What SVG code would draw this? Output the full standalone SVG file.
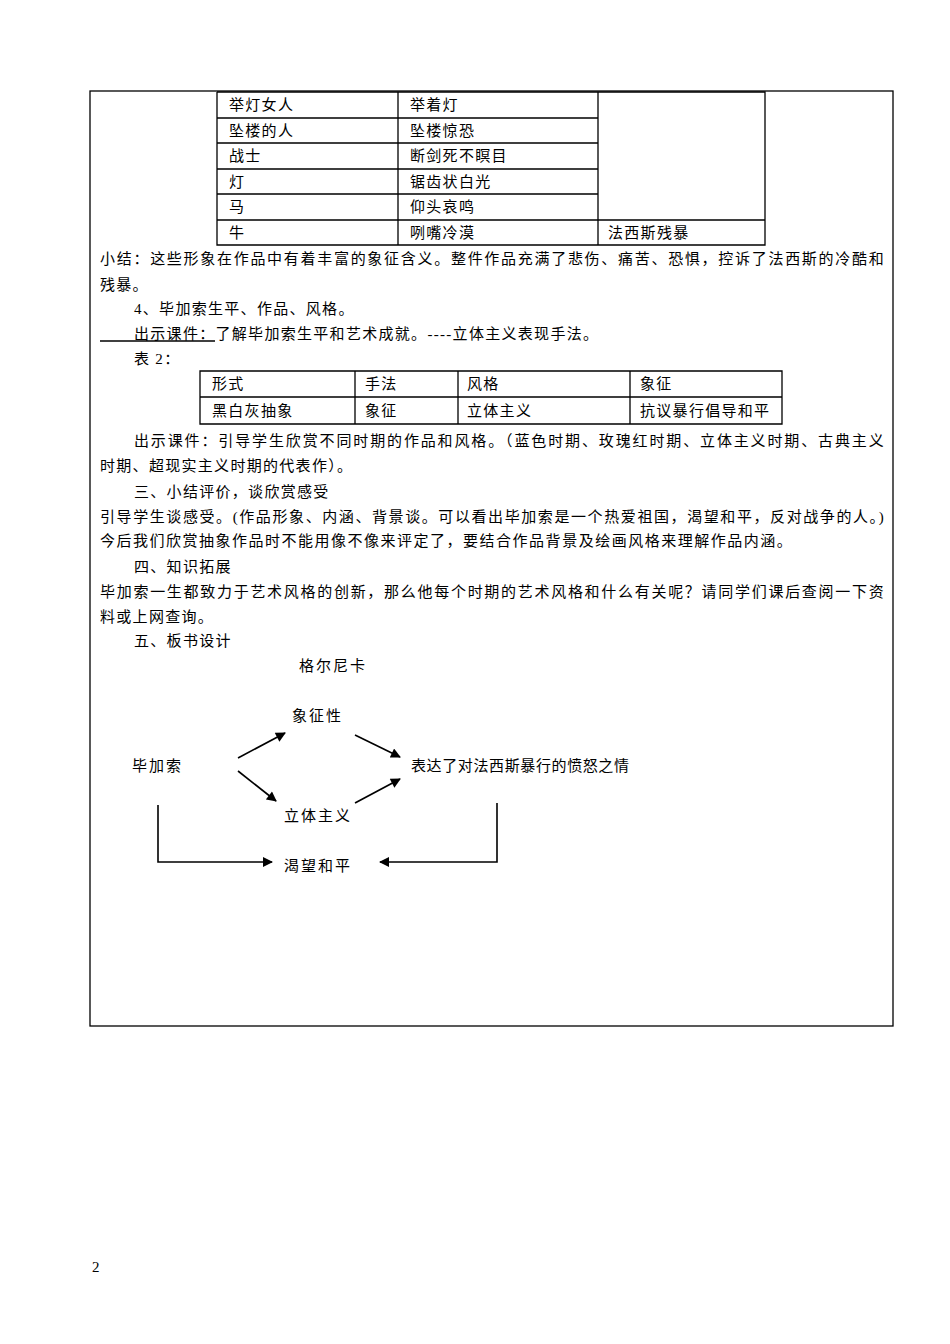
<svg xmlns="http://www.w3.org/2000/svg" width="950" height="1344" viewBox="0 0 950 1344">
<style>
text{font-family:"Liberation Serif","Noto Sans CJK SC",serif;font-size:15px;letter-spacing:1.3px;fill:#000}
.d{letter-spacing:2px}
.g line,.g rect,.g path{stroke:#000;fill:none;stroke-width:1.3}
.c path,.c line{stroke:#000;fill:none;stroke-width:1.6}
</style>
<defs><marker id="ah" viewBox="0 0 10 10" refX="9" refY="5" markerWidth="11" markerHeight="10" markerUnits="userSpaceOnUse" orient="auto"><path d="M0,0L10,5L0,10z" fill="#000"/></marker></defs>
<rect width="950" height="1344" fill="#fff"/>
<g class="g">
<rect x="90" y="91" width="803" height="935"/>
<path d="M217,92V245H765V92H217M217,118H598M217,143H598M217,169H598M217,194H598M217,220H765M398,92V245M598,92V245"/>
<path d="M200,371H782V424H200ZM200,397H782M355,371V424M458,371V424M630,371V424"/>
<line x1="100" y1="341" x2="215" y2="341"/>
</g>
<g id="table1">
<text x="229" y="110">举灯女人</text><text x="410" y="110">举着灯</text>
<text x="229" y="136">坠楼的人</text><text x="410" y="136">坠楼惊恐</text>
<text x="229" y="161">战士</text><text x="410" y="161">断剑死不瞑目</text>
<text x="229" y="187">灯</text><text x="410" y="187">锯齿状白光</text>
<text x="229" y="212">马</text><text x="410" y="212">仰头哀鸣</text>
<text x="229" y="238">牛</text><text x="410" y="238">咧嘴冷漠</text><text x="608" y="238">法西斯残暴</text>
</g>
<g id="body">
<text x="100" y="264" textLength="785">小结：这些形象在作品中有着丰富的象征含义。整件作品充满了悲伤、痛苦、恐惧，控诉了法西斯的冷酷和</text>
<text x="100" y="290">残暴。</text>
<text x="134" y="314">4、毕加索生平、作品、风格。</text>
<text x="134" y="339">出示课件：了解毕加索生平和艺术成就。----立体主义表现手法。</text>
<text x="134" y="364">表 2：</text>
</g>
<g id="table2">
<text x="212" y="389">形式</text><text x="365" y="389">手法</text><text x="467" y="389">风格</text><text x="640" y="389">象征</text>
<text x="212" y="416">黑白灰抽象</text><text x="365" y="416">象征</text><text x="467" y="416">立体主义</text><text x="640" y="416">抗议暴行倡导和平</text>
</g>
<g id="body2">
<text x="134" y="446" textLength="751">出示课件：引导学生欣赏不同时期的作品和风格。（蓝色时期、玫瑰红时期、立体主义时期、古典主义</text>
<text x="100" y="471">时期、超现实主义时期的代表作）。</text>
<text x="134" y="497">三、小结评价，谈欣赏感受</text>
<text x="100" y="522" textLength="785">引导学生谈感受。(作品形象、内涵、背景谈。可以看出毕加索是一个热爱祖国，渴望和平，反对战争的人。)</text>
<text x="100" y="546" textLength="693">今后我们欣赏抽象作品时不能用像不像来评定了，要结合作品背景及绘画风格来理解作品内涵。</text>
<text x="134" y="572">四、知识拓展</text>
<text x="100" y="597" textLength="785">毕加索一生都致力于艺术风格的创新，那么他每个时期的艺术风格和什么有关呢？请同学们课后查阅一下资</text>
<text x="100" y="622">料或上网查询。</text>
<text x="134" y="646">五、板书设计</text>
</g>
<g id="n-guernica"><text class="d" x="299" y="671">格尔尼卡</text></g>
<g id="n-symbol"><text class="d" x="292" y="721">象征性</text></g>
<g id="n-picasso"><text class="d" x="132" y="771">毕加索</text></g>
<g id="n-express"><text class="d" x="411" y="771" textLength="220">表达了对法西斯暴行的愤怒之情</text></g>
<g id="n-cubism"><text class="d" x="284" y="821">立体主义</text></g>
<g id="n-peace"><text class="d" x="284" y="871">渴望和平</text></g>
<g class="c" id="connectors">
<line x1="238" y1="758" x2="285" y2="733" marker-end="url(#ah)"/>
<line x1="355" y1="735" x2="400" y2="757" marker-end="url(#ah)"/>
<line x1="238" y1="771" x2="276" y2="801" marker-end="url(#ah)"/>
<line x1="355" y1="803" x2="400" y2="779" marker-end="url(#ah)"/>
<path d="M158,805V862H272" marker-end="url(#ah)"/>
<path d="M497,803V862H380" marker-end="url(#ah)"/>
</g>
<text x="92" y="1272">2</text>
</svg>
